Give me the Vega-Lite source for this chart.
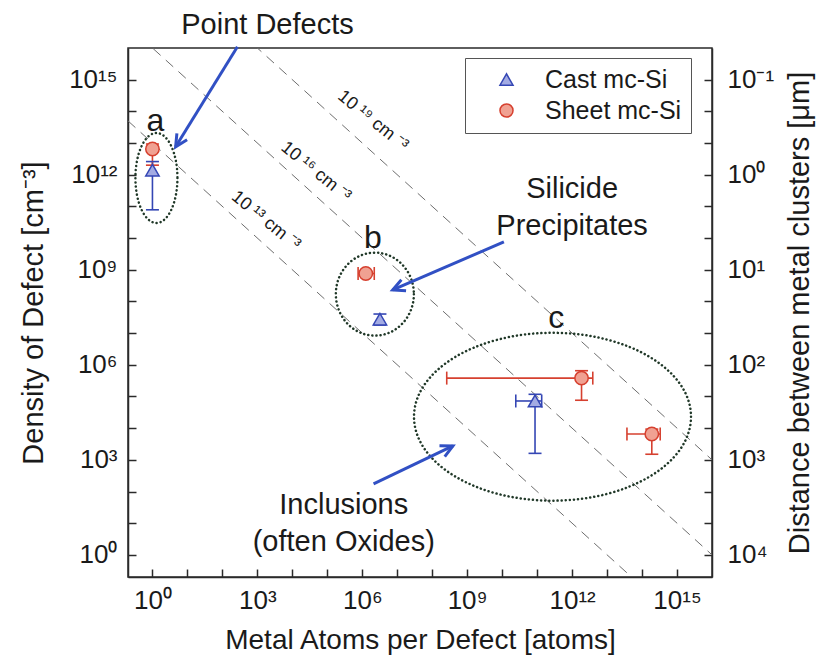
{
  "$schema": "https://vega.github.io/schema/vega-lite/v6.json",
  "width": 584,
  "height": 529,
  "autosize": {"type": "none"},
  "padding": {"left": 128, "top": 48, "right": 108, "bottom": 81},
  "background": "white",
  "config": {
    "font": "Liberation Sans",
    "view": {"stroke": "#2a2a2a", "strokeWidth": 1.5},
    "axis": {
      "domainColor": "#2a2a2a", "domainWidth": 1.5,
      "tickColor": "#2a2a2a", "tickWidth": 1.5, "tickSize": -8,
      "grid": false,
      "labelFont": "Liberation Sans", "labelFontSize": 26, "labelColor": "#1a1a1a",
      "labelOverlap": false, "labelFlush": false,
      "titleFont": "Liberation Sans", "titleFontSize": 29, "titleFontWeight": "normal", "titleColor": "#1a1a1a"
    },
    "legend": {
      "labelFont": "Liberation Sans", "labelFontSize": 25, "labelColor": "#1a1a1a",
      "strokeColor": "#555555", "fillColor": "white", "padding": 9,
      "symbolSize": 170, "symbolStrokeWidth": 1.5, "labelOffset": 26, "symbolOffset": 20, "rowPadding": 5
    }
  },
  "datasets": {
    "guides": [
      {"C": "1e13", "x": 0.2, "y": 5e13}, {"C": "1e13", "x": 5e13, "y": 0.2},
      {"C": "1e16", "x": 0.2, "y": 5e16}, {"C": "1e16", "x": 5e16, "y": 0.2},
      {"C": "1e19", "x": 0.2, "y": 5e19}, {"C": "1e19", "x": 5e19, "y": 0.2}
    ],
    "guideLabels": [
      {"label": "10 ¹³ cm ⁻³", "x": 1740, "y": 3.5e10},
      {"label": "10 ¹⁶ cm ⁻³", "x": 47000, "y": 1.23e12},
      {"label": "10 ¹⁹ cm ⁻³", "x": 2000000, "y": 5e13}
    ],
    "points": [
      {"series": "Cast mc-Si", "x": 1, "y": 1.4e12, "xlo": null, "xhi": null, "ylo": 7.8e10, "yhi": 2.6e12},
      {"series": "Cast mc-Si", "x": 3.2e6, "y": 2.75e7, "xlo": null, "xhi": null, "ylo": 1.8e7, "yhi": 4e7},
      {"series": "Cast mc-Si", "x": 8.7e10, "y": 7.2e4, "xlo": 2.45e10, "xhi": 1.35e11, "ylo": 1600, "yhi": 1.17e5},
      {"series": "Sheet mc-Si", "x": 1, "y": 6.5e12, "xlo": null, "xhi": null, "ylo": 2e12, "yhi": 9.3e12},
      {"series": "Sheet mc-Si", "x": 1.26e6, "y": 7.6e8, "xlo": 7.6e5, "xhi": 2.2e6, "ylo": null, "yhi": null},
      {"series": "Sheet mc-Si", "x": 1.86e12, "y": 3.8e5, "xlo": 2.6e8, "xhi": 3.9e12, "ylo": 7.6e4, "yhi": 6.5e5},
      {"series": "Sheet mc-Si", "x": 1.9e14, "y": 6500, "xlo": 3.7e13, "xhi": 3.3e14, "ylo": 1500, "yhi": 9300}
    ],
    "ellipses": [
      {"g": "a", "x": 1.3, "y": 7.9e11},
      {"g": "b", "x": 2.29e6, "y": 1.7e8},
      {"g": "c", "x": 2.75e11, "y": 2.29e4}
    ],
    "arrows": [
      {"name": "pd", "x": 269, "y": 1.1e16, "x2": 4.6, "y2": 7.6e12},
      {"name": "si", "x": 1.12e10, "y": 7.6e9, "x2": 7.4e6, "y2": 2.3e8},
      {"name": "inc", "x": 2.1e6, "y": 174, "x2": 3.9e8, "y2": 2750}
    ],
    "letters": [
      {"t": "a", "x": 1.22, "y": 2.45e13},
      {"t": "b", "x": 2e6, "y": 4.7e9},
      {"t": "c", "x": 3.5e11, "y": 1.48e7}
    ],
    "notes": [
      {"t": "Point Defects", "x": 1950, "y": 2.77e16},
      {"t": "Silicide\nPrecipitates", "x": 1e12, "y": 1.9e11},
      {"t": "Inclusions\n(often Oxides)", "x": 2.95e5, "y": 19.3}
    ]
  },
  "layer": [
    {
      "layer": [
        {
          "data": {"name": "guides"},
          "mark": {"type": "line", "clip": true, "stroke": "#6e6e6e", "strokeWidth": 1, "strokeDash": [10, 7]},
          "encoding": {
            "x": {"field": "x", "type": "quantitative",
              "scale": {"type": "log", "domain": [0.2, 1e16], "nice": false},
              "axis": {
                "title": "Metal Atoms per Defect [atoms]",
                "titleFontSize": 28,
                "values": [1, 10, 100, 1000, 10000, 100000, 1000000, 10000000, 100000000, 1000000000, 10000000000, 100000000000, 1000000000000, 10000000000000, 100000000000000, 1000000000000000],
                "labelExpr": "datum.value == 1 ? '10⁰' : datum.value == 1000 ? '10³' : datum.value == 1000000 ? '10⁶' : datum.value == 1000000000 ? '10⁹' : datum.value == 1000000000000 ? '10¹²' : datum.value == 1000000000000000 ? '10¹⁵' : ''",
                "labelPadding": 18, "titlePadding": 13
              }},
            "y": {"field": "y", "type": "quantitative",
              "scale": {"type": "log", "domain": [0.2, 1e16], "nice": false},
              "axis": {
                "title": "Density of Defect [cm⁻³]",
                "values": [1, 10, 100, 1000, 10000, 100000, 1000000, 10000000, 100000000, 1000000000, 10000000000, 100000000000, 1000000000000, 10000000000000, 100000000000000, 1000000000000000],
                "labelExpr": "datum.value == 1 ? '10⁰' : datum.value == 1000 ? '10³' : datum.value == 1000000 ? '10⁶' : datum.value == 1000000000 ? '10⁹' : datum.value == 1000000000000 ? '10¹²' : datum.value == 1000000000000000 ? '10¹⁵' : ''",
                "labelPadding": 19, "titlePadding": 20
              }},
            "detail": {"field": "C", "type": "nominal"}
          }
        },
        {
          "data": {"name": "guideLabels"},
          "mark": {"type": "text", "angle": 39, "fontSize": 18, "color": "#1a1a1a", "align": "center", "baseline": "middle"},
          "encoding": {
            "x": {"field": "x", "type": "quantitative"},
            "y": {"field": "y", "type": "quantitative"},
            "text": {"field": "label"}
          }
        },
        {
          "data": {"name": "ellipses"},
          "transform": [{"filter": "datum.g == 'a'"}],
          "mark": {"type": "point", "filled": false, "size": 8100, "stroke": "#203828", "strokeWidth": 2.5, "strokeDash": [0.1, 4], "strokeCap": "round", "opacity": 1,
            "shape": "M 0.467 0 C 0.467 0.552 0.258 1 0 1 C -0.258 1 -0.467 0.552 -0.467 0 C -0.467 -0.552 -0.258 -1 0 -1 C 0.258 -1 0.467 -0.552 0.467 0 Z"},
          "encoding": {"x": {"field": "x", "type": "quantitative"}, "y": {"field": "y", "type": "quantitative"}}
        },
        {
          "data": {"name": "ellipses"},
          "transform": [{"filter": "datum.g == 'b'"}],
          "mark": {"type": "point", "filled": false, "size": 6889, "stroke": "#203828", "strokeWidth": 2.5, "strokeDash": [0.1, 4], "strokeCap": "round", "opacity": 1,
            "shape": "M 0.94 0 C 0.94 0.552 0.519 1 0 1 C -0.519 1 -0.94 0.552 -0.94 0 C -0.94 -0.552 -0.519 -1 0 -1 C 0.519 -1 0.94 -0.552 0.94 0 Z"},
          "encoding": {"x": {"field": "x", "type": "quantitative"}, "y": {"field": "y", "type": "quantitative"}}
        },
        {
          "data": {"name": "ellipses"},
          "transform": [{"filter": "datum.g == 'c'"}],
          "mark": {"type": "point", "filled": false, "size": 76729, "stroke": "#203828", "strokeWidth": 2.5, "strokeDash": [0.1, 4], "strokeCap": "round", "opacity": 1,
            "shape": "M 1 0 C 1 0.335 0.552 0.606 0 0.606 C -0.552 0.606 -1 0.335 -1 0 C -1 -0.335 -0.552 -0.606 0 -0.606 C 0.552 -0.606 1 -0.335 1 0 Z"},
          "encoding": {"x": {"field": "x", "type": "quantitative"}, "y": {"field": "y", "type": "quantitative"}}
        },
        {
          "data": {"name": "points"},
          "transform": [{"filter": "isValid(datum.ylo)"}],
          "mark": {"type": "rule", "strokeWidth": 1.6},
          "encoding": {
            "x": {"field": "x", "type": "quantitative"},
            "y": {"field": "ylo", "type": "quantitative"},
            "y2": {"field": "yhi"},
            "stroke": {"field": "series", "type": "nominal", "title": null, "scale": {"domain": ["Cast mc-Si", "Sheet mc-Si"], "range": ["#3446b4", "#d6402f"]}}
          }
        },
        {
          "data": {"name": "points"},
          "transform": [{"filter": "isValid(datum.xlo)"}],
          "mark": {"type": "rule", "strokeWidth": 1.6},
          "encoding": {
            "x": {"field": "xlo", "type": "quantitative"},
            "x2": {"field": "xhi"},
            "y": {"field": "y", "type": "quantitative"},
            "stroke": {"field": "series", "type": "nominal", "title": null}
          }
        },
        {
          "data": {"name": "points"},
          "transform": [{"filter": "isValid(datum.ylo)"}],
          "mark": {"type": "point", "filled": false, "opacity": 1, "size": 169, "strokeWidth": 1.6, "shape": "M -1 0 L 1 0"},
          "encoding": {
            "x": {"field": "x", "type": "quantitative"},
            "y": {"field": "ylo", "type": "quantitative"},
            "stroke": {"field": "series", "type": "nominal", "title": null}
          }
        },
        {
          "data": {"name": "points"},
          "transform": [{"filter": "isValid(datum.yhi)"}],
          "mark": {"type": "point", "filled": false, "opacity": 1, "size": 169, "strokeWidth": 1.6, "shape": "M -1 0 L 1 0"},
          "encoding": {
            "x": {"field": "x", "type": "quantitative"},
            "y": {"field": "yhi", "type": "quantitative"},
            "stroke": {"field": "series", "type": "nominal", "title": null}
          }
        },
        {
          "data": {"name": "points"},
          "transform": [{"filter": "isValid(datum.xlo)"}],
          "mark": {"type": "point", "filled": false, "opacity": 1, "size": 169, "strokeWidth": 1.6, "shape": "M 0 -1 L 0 1"},
          "encoding": {
            "x": {"field": "xlo", "type": "quantitative"},
            "y": {"field": "y", "type": "quantitative"},
            "stroke": {"field": "series", "type": "nominal", "title": null}
          }
        },
        {
          "data": {"name": "points"},
          "transform": [{"filter": "isValid(datum.xhi)"}],
          "mark": {"type": "point", "filled": false, "opacity": 1, "size": 169, "strokeWidth": 1.6, "shape": "M 0 -1 L 0 1"},
          "encoding": {
            "x": {"field": "xhi", "type": "quantitative"},
            "y": {"field": "y", "type": "quantitative"},
            "stroke": {"field": "series", "type": "nominal", "title": null}
          }
        },
        {
          "data": {"name": "points"},
          "mark": {"type": "point", "filled": true, "opacity": 1, "size": 180, "strokeWidth": 1.5},
          "encoding": {
            "x": {"field": "x", "type": "quantitative"},
            "y": {"field": "y", "type": "quantitative"},
            "shape": {"field": "series", "type": "nominal", "title": null,
              "scale": {"domain": ["Cast mc-Si", "Sheet mc-Si"], "range": ["triangle-up", "circle"]},
              "legend": {"orient": "none", "legendX": 337, "legendY": 10, "title": null}},
            "fill": {"field": "series", "type": "nominal", "title": null,
              "scale": {"domain": ["Cast mc-Si", "Sheet mc-Si"], "range": ["#a3abe3", "#f0a192"]}},
            "stroke": {"field": "series", "type": "nominal", "title": null}
          }
        },
        {
          "data": {"name": "arrows"},
          "mark": {"type": "rule", "stroke": "#3150c4", "strokeWidth": 3},
          "encoding": {
            "x": {"field": "x", "type": "quantitative"},
            "y": {"field": "y", "type": "quantitative"},
            "x2": {"field": "x2"},
            "y2": {"field": "y2"}
          }
        },
        {
          "data": {"name": "arrows"},
          "transform": [{"filter": "datum.name == 'pd'"}],
          "mark": {"type": "point", "filled": false, "opacity": 1, "stroke": "#3150c4", "strokeWidth": 3, "size": 576, "angle": 212, "shape": "M -0.5 1 L 0 0 L 0.5 1"},
          "encoding": {"x": {"field": "x2", "type": "quantitative"}, "y": {"field": "y2", "type": "quantitative"}}
        },
        {
          "data": {"name": "arrows"},
          "transform": [{"filter": "datum.name == 'si'"}],
          "mark": {"type": "point", "filled": false, "opacity": 1, "stroke": "#3150c4", "strokeWidth": 3, "size": 576, "angle": 247, "shape": "M -0.5 1 L 0 0 L 0.5 1"},
          "encoding": {"x": {"field": "x2", "type": "quantitative"}, "y": {"field": "y2", "type": "quantitative"}}
        },
        {
          "data": {"name": "arrows"},
          "transform": [{"filter": "datum.name == 'inc'"}],
          "mark": {"type": "point", "filled": false, "opacity": 1, "stroke": "#3150c4", "strokeWidth": 3, "size": 576, "angle": 64, "shape": "M -0.5 1 L 0 0 L 0.5 1"},
          "encoding": {"x": {"field": "x2", "type": "quantitative"}, "y": {"field": "y2", "type": "quantitative"}}
        },
        {
          "data": {"name": "letters"},
          "mark": {"type": "text", "fontSize": 32, "color": "#1a1a1a", "align": "center", "baseline": "alphabetic"},
          "encoding": {
            "x": {"field": "x", "type": "quantitative"},
            "y": {"field": "y", "type": "quantitative"},
            "text": {"field": "t"}
          }
        },
        {
          "data": {"name": "notes"},
          "mark": {"type": "text", "fontSize": 29, "color": "#1a1a1a", "align": "center", "baseline": "alphabetic", "lineBreak": "\n", "lineHeight": 37},
          "encoding": {
            "x": {"field": "x", "type": "quantitative"},
            "y": {"field": "y", "type": "quantitative"},
            "text": {"field": "t"}
          }
        }
      ]
    },
    {
      "data": {"values": [{"v": 1}, {"v": 1e15}]},
      "mark": {"type": "point", "opacity": 0},
      "encoding": {
        "y": {"field": "v", "type": "quantitative",
          "scale": {"type": "log", "domain": [0.2, 1e16], "nice": false},
          "axis": {
            "orient": "right",
            "title": "Distance between metal clusters [μm]",
            "titleAngle": 270, "titleBaseline": "top",
            "values": [1, 10, 100, 1000, 10000, 100000, 1000000, 10000000, 100000000, 1000000000, 10000000000, 100000000000, 1000000000000, 10000000000000, 100000000000000, 1000000000000000],
            "labelExpr": "datum.value == 1 ? '10⁴' : datum.value == 1000 ? '10³' : datum.value == 1000000 ? '10²' : datum.value == 1000000000 ? '10¹' : datum.value == 1000000000000 ? '10⁰' : datum.value == 1000000000000000 ? '10⁻¹' : ''",
            "labelPadding": 23, "titlePadding": 12
          }}
      }
    }
  ],
  "resolve": {"scale": {"y": "independent"}}
}
